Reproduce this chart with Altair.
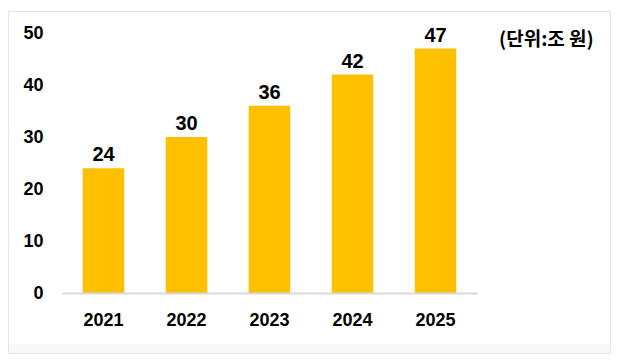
import altair as alt
import pandas as pd

years = ["2021", "2022", "2023", "2024", "2025"]
values = [24, 30, 36, 42, 47]
y_ticks = [0, 10, 20, 30, 40, 50]
unit_label = ["(단위:조 원)"]

df = pd.DataFrame({"year": years, "value": values})
one = pd.DataFrame({"label": unit_label})

FONT = "Liberation Sans, Noto Sans CJK KR, sans-serif"
KFONT = "Noto Sans CJK KR, sans-serif"

frame = alt.Chart(one).mark_rect(fill="white", stroke="#e4e4e4", strokeWidth=1).encode(
    x=alt.value(-53.5), x2=alt.value(548.5), y=alt.value(-21.5), y2=alt.value(320.5)
)
strip = alt.Chart(one).mark_rect(fill="#f8f8f8").encode(
    x=alt.value(-53), x2=alt.value(548), y=alt.value(311), y2=alt.value(320)
)

x_enc = alt.X(
    "year:N", sort=years,
    scale=alt.Scale(paddingInner=0.5, paddingOuter=0.25),
    axis=alt.Axis(title=None, labelAngle=0, labelFont=FONT, labelFontSize=18,
                  labelFontWeight="bold", labelColor="#000000", ticks=False,
                  domainColor="#d9d9d9", domainWidth=2, labelPadding=18,
                  grid=False, zindex=1),
)
y_enc = alt.Y(
    "value:Q", scale=alt.Scale(domain=[0, 50], nice=False),
    axis=alt.Axis(title=None, values=y_ticks, labelFont=FONT, labelFontSize=18,
                  labelFontWeight="bold", labelColor="#000000", ticks=False,
                  domain=False, grid=False, labelPadding=19, zindex=1),
)

bars = alt.Chart(df).mark_bar(color="#FFC000").encode(x=x_enc, y=y_enc)
labels = alt.Chart(df).mark_text(
    font=FONT, fontSize=20, fontWeight="bold", color="#000000",
    baseline="alphabetic", dy=-7
).encode(x=alt.X("year:N", sort=years), y="value:Q", text="value:Q")

unit = alt.Chart(one).mark_text(
    font=KFONT, fontSize=19, fontWeight="bold", color="#000000",
    align="left", baseline="middle"
).encode(x=alt.value(437), y=alt.value(7), text="label:N")

chart = alt.layer(frame, strip, bars, labels, unit).properties(
    width=415, height=260,
    autosize=alt.AutoSizeParams(type="none"),
    padding={"left": 54, "top": 25, "right": 134, "bottom": 62},
    background="white",
).configure_view(strokeWidth=0)

chart.save("out.html", embed_options={"renderer": "svg", "actions": False})
